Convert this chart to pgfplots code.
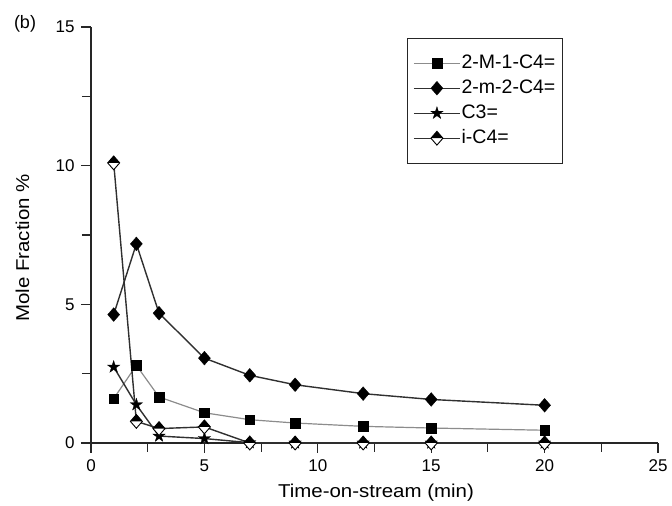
\documentclass[border=0pt]{standalone}
\usepackage{pgfplots}
\pgfplotsset{compat=1.18}
\usepackage{graphicx}
\usepackage{fontspec}
\setmainfont{Liberation Sans}
\definecolor{darkline}{HTML}{303030}
\definecolor{greyline}{HTML}{8C8C8C}
\pgfdeclareplotmark{mydiam}{%
  \pgfpathmoveto{\pgfqpoint{0pt}{1.15\pgfplotmarksize}}%
  \pgfpathlineto{\pgfqpoint{\pgfplotmarksize}{0pt}}%
  \pgfpathlineto{\pgfqpoint{0pt}{-1.15\pgfplotmarksize}}%
  \pgfpathlineto{\pgfqpoint{-\pgfplotmarksize}{0pt}}%
  \pgfpathclose
  \pgfusepathqfillstroke}
\pgfdeclareplotmark{halfdiam}{%
  \pgfsetfillcolor{white}%
  \pgfpathmoveto{\pgfqpoint{0pt}{1.15\pgfplotmarksize}}%
  \pgfpathlineto{\pgfqpoint{\pgfplotmarksize}{0pt}}%
  \pgfpathlineto{\pgfqpoint{0pt}{-1.15\pgfplotmarksize}}%
  \pgfpathlineto{\pgfqpoint{-\pgfplotmarksize}{0pt}}%
  \pgfpathclose
  \pgfusepathqfill
  \pgfsetfillcolor{black}%
  \pgfpathmoveto{\pgfqpoint{0pt}{1.15\pgfplotmarksize}}%
  \pgfpathlineto{\pgfqpoint{\pgfplotmarksize}{0pt}}%
  \pgfpathlineto{\pgfqpoint{-\pgfplotmarksize}{0pt}}%
  \pgfpathclose
  \pgfusepathqfill
  \pgfpathmoveto{\pgfqpoint{0pt}{1.15\pgfplotmarksize}}%
  \pgfpathlineto{\pgfqpoint{\pgfplotmarksize}{0pt}}%
  \pgfpathlineto{\pgfqpoint{0pt}{-1.15\pgfplotmarksize}}%
  \pgfpathlineto{\pgfqpoint{-\pgfplotmarksize}{0pt}}%
  \pgfpathclose
  \pgfusepathqstroke}
\pgfdeclareplotmark{fstar}{%
  \pgfpathmoveto{\pgfpoint{0pt}{\pgfplotmarksize}}%
  \pgfpathlineto{\pgfpoint{-0.2245\pgfplotmarksize}{0.309\pgfplotmarksize}}%
  \pgfpathlineto{\pgfpoint{-0.951\pgfplotmarksize}{0.309\pgfplotmarksize}}%
  \pgfpathlineto{\pgfpoint{-0.363\pgfplotmarksize}{-0.118\pgfplotmarksize}}%
  \pgfpathlineto{\pgfpoint{-0.588\pgfplotmarksize}{-0.809\pgfplotmarksize}}%
  \pgfpathlineto{\pgfpoint{0pt}{-0.382\pgfplotmarksize}}%
  \pgfpathlineto{\pgfpoint{0.588\pgfplotmarksize}{-0.809\pgfplotmarksize}}%
  \pgfpathlineto{\pgfpoint{0.363\pgfplotmarksize}{-0.118\pgfplotmarksize}}%
  \pgfpathlineto{\pgfpoint{0.951\pgfplotmarksize}{0.309\pgfplotmarksize}}%
  \pgfpathlineto{\pgfpoint{0.2245\pgfplotmarksize}{0.309\pgfplotmarksize}}%
  \pgfpathclose
  \pgfusepathqfillstroke}
\begin{document}
\begin{tikzpicture}
\path (0,0) rectangle (672pt,506pt);
\begin{axis}[
  at={(91pt,63pt)}, anchor=south west,
  scale only axis, width=567pt, height=416pt,
  xmin=0, xmax=25, ymin=0, ymax=15,
  axis lines=left, axis line style={-, black!85, line width=1.1pt},
  xtick={0,5,10,15,20,25}, minor xtick={2.5,7.5,12.5,17.5,22.5},
  ytick={0,5,10,15}, minor ytick={2.5,7.5,12.5},
  tick align=outside, major tick length=10pt, minor tick length=9pt,
  tick style={black!85, line width=1.1pt},
  /pgf/number format/assume math mode=true,
  xticklabel style={font=\fontsize{17}{20}\selectfont, yshift=-3pt},
  yticklabel style={font=\fontsize{17}{20}\selectfont, xshift=-3pt},
  clip=false,
  legend style={at={(axis description cs:0.557,0.974)}, anchor=north west,
    draw=black!85, line width=0.8pt, inner xsep=6pt, inner ysep=15pt,
    font=\fontsize{19.5}{22}\selectfont, row sep=5pt,
    nodes={inner sep=1pt, text height=14pt, text depth=4pt},
    /tikz/every even column/.append style={column sep=5pt}},
  legend cell align=left,
  legend image code/.code={\draw[mark repeat=2,mark phase=2] plot coordinates {(0pt,0pt) (23pt,0pt) (46pt,0pt)};},
]
\addplot[greyline, line width=1.2pt, mark=square*, mark size=4.8pt, mark options={black, fill=black, line width=0.3pt}]
coordinates {(1,1.60) (2,2.80) (3,1.66) (5,1.09) (7,0.84) (9,0.72) (12,0.60) (15,0.54) (20,0.46)};
\addlegendentry{2-M-1-C4=}
\addplot[darkline, line width=1.4pt, mark=mydiam, mark size=6pt, mark options={black, fill=black, line width=0.3pt}]
coordinates {(1,4.63) (2,7.18) (3,4.68) (5,3.06) (7,2.44) (9,2.10) (12,1.78) (15,1.57) (20,1.36)};
\addlegendentry{2-m-2-C4=}
\addplot[darkline, line width=1.4pt, mark=fstar, mark size=6.5pt, mark options={black, fill=black, line width=0.3pt}]
coordinates {(1,2.74) (2,1.38) (3,0.25) (5,0.16) (7,0.01) (9,0.0) (12,0.0) (15,0.0) (20,0.0)};
\addlegendentry{C3=}
\addplot[darkline, line width=1.4pt, mark=halfdiam, mark size=6pt, mark options={black, line width=0.9pt}]
coordinates {(1,10.1) (2,0.78) (3,0.52) (5,0.58) (7,0.0) (9,0.0) (12,0.0) (15,0.0) (20,0.0)};
\addlegendentry{i-C4=}
\end{axis}
\node[anchor=base, inner sep=0pt, font=\fontsize{18.6}{22}\selectfont] at (376pt,9pt) {\scalebox{1.1}[1]{Time-on-stream (min)}};
\node[anchor=base, rotate=90, inner sep=0pt, font=\fontsize{18.6}{22}\selectfont] at (29pt,258pt) {\scalebox{1.1}[1]{Mole Fraction \%}};
\node[font=\fontsize{18}{22}\selectfont] at (25pt,482pt) {(b)};
\end{tikzpicture}
\end{document}
